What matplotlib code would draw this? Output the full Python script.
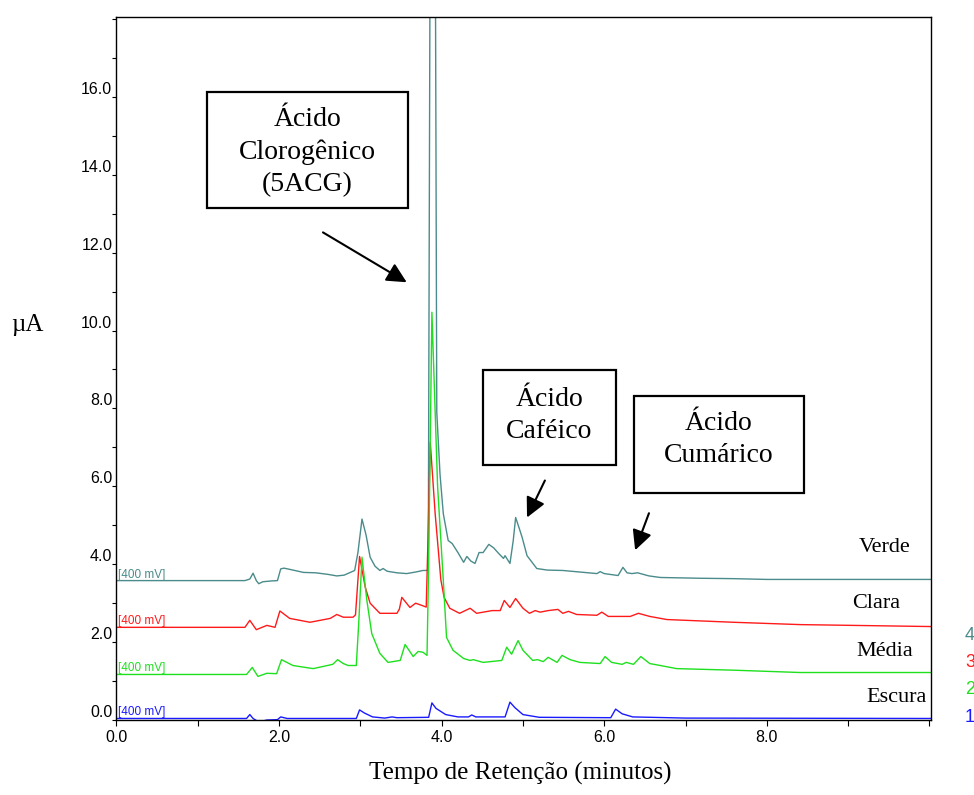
import matplotlib
matplotlib.use("Agg")
import matplotlib.pyplot as plt
from matplotlib.patches import Rectangle
from matplotlib.ticker import MultipleLocator

plt.rcParams['font.family'] = ['Liberation Sans', 'DejaVu Sans']

# tempos (min) e correntes (uA) de cada cromatograma
t_verde = [0.0, 1.58, 1.64, 1.68, 1.72, 1.75, 1.80, 1.90, 1.98, 2.02, 2.06, 2.15, 2.30, 2.45,
           2.60, 2.71, 2.80, 2.93, 2.97, 3.02, 3.07, 3.12, 3.18, 3.24, 3.28, 3.33, 3.45, 3.57,
           3.68, 3.77, 3.81, 3.835, 3.855, 3.89, 3.925, 3.94, 3.98, 4.02, 4.08, 4.13, 4.20,
           4.27, 4.31, 4.36, 4.41, 4.46, 4.51, 4.58, 4.64, 4.70, 4.76, 4.78, 4.84, 4.88, 4.91,
           4.95, 4.99, 5.05, 5.17, 5.30, 5.49, 5.70, 5.91, 5.95, 6.00, 6.17, 6.23, 6.28, 6.34,
           6.41, 6.55, 6.69, 7.18, 7.59, 8.0, 9.0, 10.02]
i_verde = [3.58, 3.58, 3.62, 3.77, 3.58, 3.50, 3.55, 3.57, 3.58, 3.88, 3.90, 3.86, 3.79, 3.78,
           3.74, 3.70, 3.72, 3.84, 4.30, 5.16, 4.75, 4.18, 3.95, 3.84, 3.89, 3.82, 3.78, 3.76,
           3.80, 3.84, 3.84, 3.86, 18.0, 24.0, 18.0, 7.9, 6.3, 5.30, 4.61, 4.53, 4.30,
           4.05, 4.20, 4.08, 4.02, 4.30, 4.30, 4.51, 4.42, 4.28, 4.15, 4.22, 4.02, 4.60, 5.20,
           4.95, 4.69, 4.22, 3.89, 3.85, 3.84, 3.80, 3.76, 3.81, 3.76, 3.71, 3.92, 3.78, 3.76,
           3.78, 3.70, 3.66, 3.64, 3.63, 3.61, 3.61, 3.61]

t_clara = [0.0, 1.58, 1.64, 1.72, 1.85, 1.95, 2.01, 2.13, 2.38, 2.63, 2.71, 2.79, 2.91, 2.94,
           2.99, 3.06, 3.12, 3.24, 3.45, 3.48, 3.51, 3.61, 3.68, 3.76, 3.81, 3.83, 3.86, 3.92,
           3.99, 4.03, 4.10, 4.22, 4.35, 4.43, 4.62, 4.72, 4.77, 4.84, 4.91, 5.00, 5.08, 5.15,
           5.21, 5.31, 5.43, 5.49, 5.56, 5.66, 5.91, 5.97, 6.05, 6.32, 6.42, 6.56, 6.77, 7.59,
           8.41, 10.02]
i_clara = [2.38, 2.38, 2.56, 2.32, 2.43, 2.38, 2.80, 2.61, 2.51, 2.61, 2.71, 2.64, 2.64, 2.70,
           4.20, 3.41, 3.00, 2.74, 2.74, 2.85, 3.15, 2.89, 3.00, 2.94, 2.90, 4.50, 7.13, 5.30,
           3.60, 3.15, 2.87, 2.74, 2.87, 2.74, 2.81, 2.81, 3.07, 2.89, 3.12, 2.87, 2.74, 2.81,
           2.77, 2.81, 2.84, 2.74, 2.79, 2.71, 2.69, 2.77, 2.66, 2.66, 2.74, 2.66, 2.58, 2.51,
           2.45, 2.40]

t_media = [0.0, 1.60, 1.67, 1.74, 1.85, 1.97, 2.03, 2.17, 2.42, 2.66, 2.72, 2.79, 2.85, 2.95,
           2.98, 3.02, 3.08, 3.14, 3.24, 3.34, 3.49, 3.55, 3.65, 3.71, 3.77, 3.82, 3.84, 3.88,
           3.95, 4.02, 4.06, 4.14, 4.27, 4.35, 4.39, 4.51, 4.74, 4.80, 4.86, 4.94, 5.00, 5.12,
           5.18, 5.25, 5.31, 5.42, 5.48, 5.58, 5.70, 5.95, 6.01, 6.09, 6.22, 6.27, 6.36, 6.45,
           6.56, 6.69, 6.89, 7.59, 8.41, 10.02]
i_media = [1.17, 1.17, 1.35, 1.12, 1.20, 1.19, 1.55, 1.40, 1.32, 1.43, 1.55, 1.45, 1.40, 1.40,
           2.50, 4.18, 3.07, 2.22, 1.71, 1.48, 1.53, 1.94, 1.63, 1.76, 1.74, 1.66, 4.00, 10.47,
           6.00, 3.59, 2.12, 1.79, 1.58, 1.53, 1.55, 1.48, 1.53, 1.87, 1.69, 2.04, 1.79, 1.53,
           1.55, 1.50, 1.61, 1.48, 1.66, 1.55, 1.48, 1.45, 1.63, 1.48, 1.43, 1.48, 1.43, 1.63,
           1.45, 1.40, 1.32, 1.28, 1.22, 1.22]

t_escura = [0.0, 1.60, 1.64, 1.68, 1.75, 1.85, 1.98, 2.02, 2.10, 2.95, 2.99, 3.05, 3.15, 3.30,
            3.39, 3.45, 3.84, 3.88, 3.93, 4.05, 4.20, 4.33, 4.37, 4.42, 4.78, 4.84, 4.90, 5.00,
            5.20, 6.08, 6.14, 6.22, 6.35, 7.0, 10.02]
i_escura = [0.04, 0.04, 0.14, 0.04, -0.05, 0.00, 0.01, 0.08, 0.04, 0.04, 0.26, 0.18, 0.08, 0.05,
            0.08, 0.06, 0.07, 0.44, 0.30, 0.14, 0.08, 0.08, 0.13, 0.08, 0.08, 0.46, 0.32, 0.14,
            0.07, 0.06, 0.28, 0.16, 0.08, 0.05, 0.04]

amostras = ['Verde', 'Clara', 'Média', 'Escura']
cores = ['#4b8b8b', '#ff1a1a', '#1ee01e', '#1a1aff']
numeros = ['4', '3', '2', '1']
series = [(t_verde, i_verde), (t_clara, i_clara), (t_media, i_media), (t_escura, i_escura)]

# posicao dos nomes das amostras (min, uA)
pos_nomes = [(9.45, 4.44), (9.35, 3.00), (9.45, 1.77), (9.60, 0.59)]

fig = plt.figure(figsize=(9.74, 7.95), dpi=100)
ax = fig.add_axes([0.1196, 0.0943, 0.8363, 0.8843])

for (t, i), cor, nome, (xn, yn) in zip(series, cores, amostras, pos_nomes):
    ax.plot(t, i, color=cor, lw=1.0)
    ax.text(0.02, i[0], '[400 mV]', color=cor, fontsize=8.5, ha='left', va='bottom')
    ax.text(xn, yn, nome, family='Liberation Serif', fontsize=16, ha='center', va='center')

ax.set_xlim(0, 10.02)
ax.set_ylim(0, 18.05)

ax.set_xticks([0, 2, 4, 6, 8])
ax.set_xticklabels(['0.0', '2.0', '4.0', '6.0', '8.0'])
ax.xaxis.set_minor_locator(MultipleLocator(1))
ax.set_yticks(range(0, 17, 2))
ax.set_yticklabels(['%.1f' % v for v in range(0, 17, 2)], va='bottom')
ax.yaxis.set_minor_locator(MultipleLocator(1))
ax.tick_params(axis='x', which='both', direction='out', length=4, width=0.8, labelsize=11.5, pad=3)
ax.tick_params(axis='y', which='both', direction='out', length=3, width=0.8, labelsize=11.5, pad=0)
for s in ax.spines.values():
    s.set_linewidth(1.0)

# caixas com os nomes dos acidos
caixas = [
    ((1.113, 13.14), 2.472, 2.98, (2.349, 14.58), 'Ácido\nClorogênico\n(5ACG)'),
    ((4.508, 6.54), 1.636, 2.44, (5.326, 7.82), 'Ácido\nCaféico'),
    ((6.366, 5.84), 2.091, 2.47, (7.41, 7.21), 'Ácido\nCumárico'),
]
for (x0, y0), w, h, (xt, yt), txt in caixas:
    ax.add_patch(Rectangle((x0, y0), w, h, facecolor='white', edgecolor='black',
                           lw=1.6, zorder=5))
    ax.text(xt, yt, txt, family='Liberation Serif', fontsize=20, ha='center',
            va='center', linespacing=1.38, zorder=6)

setas = [((3.57, 11.24), (2.54, 12.52)), ((5.05, 5.20), (5.27, 6.15)), ((6.38, 4.36), (6.55, 5.31))]
for ponta, cauda in setas:
    ax.annotate('', xy=ponta, xytext=cauda,
                arrowprops=dict(arrowstyle='-|>', mutation_scale=30, lw=1.5, color='black',
                                shrinkA=0, shrinkB=0))

fig.text(27 / 974, 1 - 325 / 795, 'µA', family='Liberation Serif', fontsize=18,
         ha='center', va='center')
fig.text(520 / 974, 1 - 773 / 795, 'Tempo de Retenção (minutos)', family='Liberation Serif',
         fontsize=18, ha='center', va='center')

for k, (num, cor) in enumerate(zip(numeros, cores)):
    fig.text(965 / 974, 1 - (635 + 27.5 * k) / 795, num, color=cor, fontsize=13,
             ha='left', va='center')

fig.savefig('out.png', dpi=100)
